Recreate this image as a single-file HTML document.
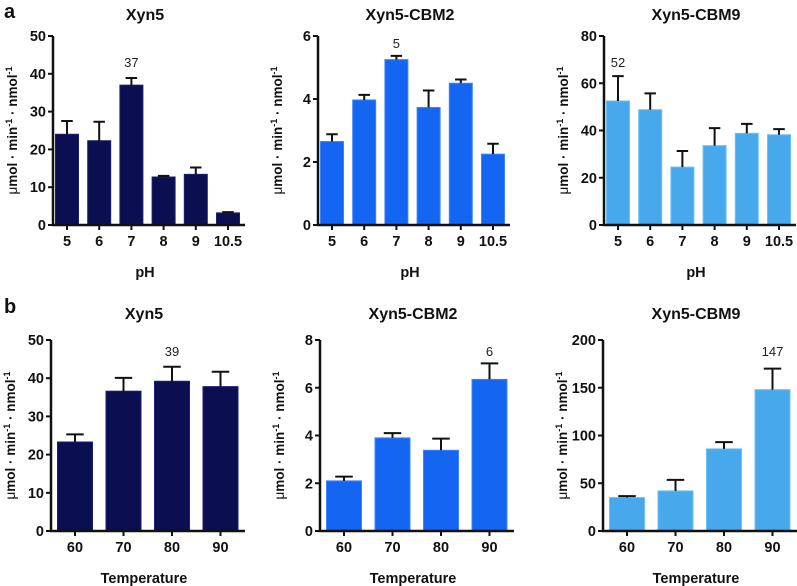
<!DOCTYPE html>
<html><head><meta charset="utf-8"><style>
body{margin:0;background:#fff;}
svg{display:block;font-family:"Liberation Sans",Arial,sans-serif;}
</style></head><body>
<svg id="fig" width="797" height="586"></svg>
<script>
const phCats=["5","6","7","8","9","10.5"];
const tempCats=["60","70","80","90"];
const a1Vals=[24,22.3,37,12.7,13.4,3.2];
const a1Err=[3.5,5,1.9,0.3,1.8,0.2];
const a2Vals=[2.65,3.97,5.25,3.73,4.5,2.25];
const a2Err=[0.23,0.16,0.12,0.54,0.12,0.33];
const a3Vals=[52.5,48.8,24.5,33.6,38.8,38.2];
const a3Err=[10.5,6.9,6.8,7.4,4,2.4];
const b1Vals=[23.3,36.6,39.2,37.8];
const b1Err=[2,3.5,3.8,3.9];
const b2Vals=[2.1,3.9,3.38,6.35];
const b2Err=[0.18,0.2,0.49,0.67];
const b3Vals=[35,42,86,148];
const b3Err=[1.5,11.5,7,22];
const a1Ticks=[0,10,20,30,40,50];
const a2Ticks=[0,2,4,6];
const a3Ticks=[0,20,40,60,80];
const b1Ticks=[0,10,20,30,40,50];
const b2Ticks=[0,2,4,6,8];
const b3Ticks=[0,50,100,150,200];
const a1Note=["37"],a2Note=["5"],a3Note=["52"],b1Note=["39"],b2Note=["6"],b3Note=["147"];

const NS="http://www.w3.org/2000/svg";
const svg=document.getElementById('fig');
function el(tag,attrs,parent,text){const e=document.createElementNS(NS,tag);for(const k in attrs)e.setAttribute(k,attrs[k]);if(text!==undefined)e.textContent=text;(parent||svg).appendChild(e);return e;}

function panel(o){
  const g=el('g',{});
  
  
  const max=o.ticks[o.ticks.length-1];
  const y=v=>o.y0-(v/max)*(o.y0-o.yTop);
  const x=i=>o.ax+o.first+i*o.pitch;
  const t=el('text',{x:o.ax+o.len/2-4,y:o.titleY,'font-size':16,'font-weight':'bold','text-anchor':'middle',fill:'#111'},g,o.title);
  
  
  o.vals.forEach((v,i)=>{
    const r=el('rect',{x:x(i)-o.bw/2,y:y(v),width:o.bw,height:o.y0-y(v),fill:o.color,stroke:o.stroke,'stroke-width':1},g);
    
    
    const top=y(v+o.err[i]);
    const e=el('path',{d:`M${x(i)} ${y(v)}V${top}M${x(i)-o.bw/4} ${top}H${x(i)+o.bw/4}`,stroke:'#111','stroke-width':2,fill:'none'},g);
    
    
  });
  const ni=o.noteIdx;
  const n=el('text',{x:x(ni),y:o.noteY,'font-size':13,'text-anchor':'middle',fill:'#222'},g,o.note[0]);
  
  
  const ax=el('path',{d:`M${o.ax} ${o.yTop}V${o.y0}H${o.ax+o.len}`,stroke:'#111','stroke-width':2.5,fill:'none'},g);
  
  
  o.ticks.forEach(tv=>{
    el('line',{x1:o.ax-5,x2:o.ax,y1:y(tv),y2:y(tv),stroke:'#111','stroke-width':2},g);
    const tl=el('text',{x:o.ax-7,y:y(tv)+5,'font-size':14.5,'font-weight':'bold','text-anchor':'end',fill:'#111'},g,tv);
    
    
  });
  o.cats.forEach((c,i)=>{
    el('line',{x1:x(i),x2:x(i),y1:o.y0,y2:o.y0+5,stroke:'#111','stroke-width':2},g);
    const tl=el('text',{x:x(i),y:o.y0+21,'font-size':14.5,'font-weight':'bold','text-anchor':'middle',fill:'#111'},g,c);
    
    
  });
  const xt=el('text',{x:o.ax+o.len/2-4,y:o.y0+52,'font-size':14.5,'font-weight':'bold','text-anchor':'middle',fill:'#111'},g,o.xtitle);
  
  
  const cy=(o.y0+o.yTop)/2;
  const yt=el('text',{x:o.ax-36,y:cy,'font-size':13.5,'font-weight':'bold','text-anchor':'middle',fill:'#111',transform:`rotate(-90 ${o.ax-36} ${cy})`},g);
  
  
  yt.innerHTML='<tspan font-weight="normal">μ</tspan>mol · min<tspan dy="-5" font-size="9">-1</tspan><tspan dy="5"> · nmol</tspan><tspan dy="-5" font-size="9">-1</tspan>';
}
const NAVY='#0b0f52',BLUE='#1466f2',LIGHT='#47a9ec';
const ph={cats:phCats,first:14,pitch:32.2,bw:23,len:192,yTop:36,y0:225,titleY:20,noteY:67,xtitle:'pH'};
const tp={cats:tempCats,first:24,pitch:48.5,bw:35,len:194,yTop:340,y0:531,titleY:319,noteY:356,xtitle:'Temperature'};
panel({...ph,name:'chart-a-xyn5',ax:53,title:'Xyn5',vals:a1Vals,err:a1Err,ticks:a1Ticks,color:NAVY,stroke:'#1a2070',note:a1Note,noteIdx:2});
panel({...ph,name:'chart-a-xyn5-cbm2',ax:318,title:'Xyn5-CBM2',vals:a2Vals,err:a2Err,ticks:a2Ticks,color:BLUE,stroke:'#3a85ff',note:a2Note,noteIdx:2,noteY:48});
panel({...ph,name:'chart-a-xyn5-cbm9',ax:604,title:'Xyn5-CBM9',vals:a3Vals,err:a3Err,ticks:a3Ticks,color:LIGHT,stroke:'#6cc0f5',note:a3Note,noteIdx:0});
panel({...tp,name:'chart-b-xyn5',ax:51,title:'Xyn5',vals:b1Vals,err:b1Err,ticks:b1Ticks,color:NAVY,stroke:'#1a2070',note:b1Note,noteIdx:2});
panel({...tp,name:'chart-b-xyn5-cbm2',ax:320,title:'Xyn5-CBM2',vals:b2Vals,err:b2Err,ticks:b2Ticks,color:BLUE,stroke:'#3a85ff',note:b2Note,noteIdx:3});
panel({...tp,name:'chart-b-xyn5-cbm9',ax:603,title:'Xyn5-CBM9',vals:b3Vals,err:b3Err,ticks:b3Ticks,color:LIGHT,stroke:'#6cc0f5',note:b3Note,noteIdx:3});
const la=el('text',{x:4,y:18,'font-size':20,'font-weight':'bold',fill:'#111'},svg,'a');


const lb=el('text',{x:4,y:313,'font-size':20,'font-weight':'bold',fill:'#111'},svg,'b');


</script>
</body></html>
